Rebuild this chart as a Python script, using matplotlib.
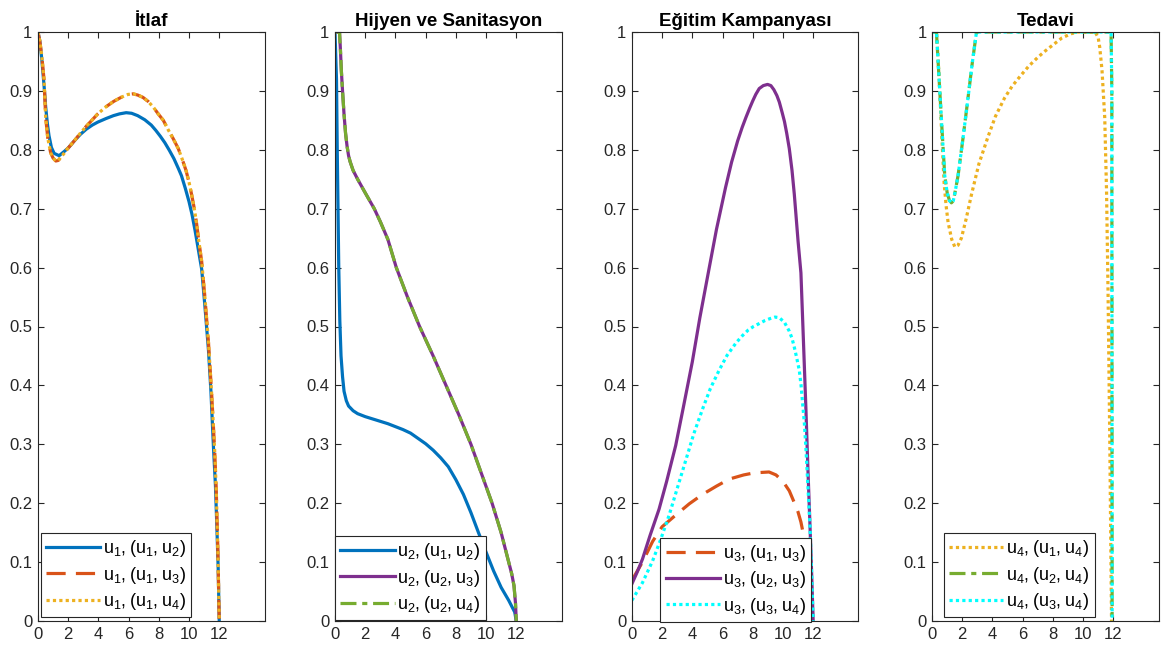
import numpy as np
import matplotlib
matplotlib.use("Agg")
import matplotlib.pyplot as plt

plt.rcParams['font.family'] = ['Liberation Sans', 'DejaVu Sans']

# --- renkler (MATLAB varsayilan) ---
mavi = '#0072BD'
turuncu = '#D95319'
sari = '#EDB120'
mor = '#7E2F8E'
yesil = '#77AC30'
camgobegi = '#00FFFF'

# --- Itlaf (u1) ---
t1_a = [0.0, 0.12, 0.25, 0.4, 0.51, 0.62, 0.73, 0.89, 1.07, 1.4, 1.73, 2.0, 2.4, 2.8, 3.2, 3.6, 3.96, 4.5,
        5.0, 5.4, 5.84, 6.2, 6.6, 7.07, 7.5, 7.8, 8.1, 8.4, 8.7, 9.0, 9.3, 9.5, 9.75, 10.0, 10.2, 10.4,
        10.6, 10.84, 11.05, 11.29, 11.45, 11.62, 11.75, 11.84, 11.93, 12.0]
u1_a = [1.0, 0.985, 0.955, 0.91, 0.873, 0.845, 0.824, 0.804, 0.794, 0.790, 0.797, 0.803, 0.815, 0.826,
        0.835, 0.842, 0.847, 0.853, 0.858, 0.861, 0.863, 0.862, 0.858, 0.851, 0.842, 0.833, 0.823, 0.812,
        0.799, 0.785, 0.768, 0.756, 0.735, 0.712, 0.690, 0.663, 0.633, 0.597, 0.535, 0.459, 0.390, 0.294,
        0.230, 0.162, 0.09, 0.0]
t1_b = [0.0, 0.12, 0.25, 0.4, 0.51, 0.65, 0.84, 1.0, 1.18, 1.35, 1.5, 1.7, 1.9, 2.4, 2.8, 3.2, 3.6, 3.96,
        4.5, 5.0, 5.5, 5.96, 6.3, 6.6, 6.95, 7.3, 7.65, 7.96, 8.3, 8.6, 8.95, 9.29, 9.55, 9.8, 10.0, 10.18,
        10.35, 10.5, 10.65, 10.84, 11.05, 11.29, 11.5, 11.69, 11.8, 11.91, 12.0]
u1_b = [1.0, 0.985, 0.96, 0.92, 0.855, 0.82, 0.795, 0.786, 0.781, 0.782, 0.787, 0.793, 0.800, 0.815, 0.828,
        0.840, 0.851, 0.861, 0.873, 0.882, 0.889, 0.894, 0.895, 0.893, 0.889, 0.882, 0.872, 0.861, 0.850,
        0.835, 0.819, 0.802, 0.784, 0.765, 0.745, 0.723, 0.700, 0.675, 0.645, 0.61, 0.55, 0.472, 0.385,
        0.294, 0.225, 0.12, 0.0]

# --- Hijyen ve Sanitasyon (u2) ---
t2_a = [0.0, 0.1, 0.15, 0.2, 0.25, 0.32, 0.4, 0.5, 0.6, 0.75, 0.9, 1.2, 1.5, 2.0, 2.5, 3.0, 3.5, 4.0, 4.5,
        5.0, 5.5, 6.0, 6.5, 7.0, 7.5, 8.0, 8.5, 9.0, 9.5, 10.0, 10.5, 11.0, 11.5, 11.9, 12.0]
u2_a = [1.0, 0.92, 0.8, 0.7, 0.6, 0.51, 0.45, 0.415, 0.39, 0.374, 0.365, 0.357, 0.352, 0.347, 0.343, 0.339,
        0.335, 0.330, 0.325, 0.319, 0.31, 0.301, 0.29, 0.277, 0.262, 0.24, 0.215, 0.184, 0.15, 0.117,
        0.085, 0.057, 0.035, 0.015, 0.0]
t2_b = [0.0, 0.3, 0.36, 0.42, 0.5, 0.6, 0.7, 0.8, 0.9, 1.0, 1.2, 1.5, 2.0, 2.6, 3.0, 3.5, 4.06, 4.8, 5.6,
        6.5, 7.35, 8.2, 9.0, 9.7, 10.4, 11.0, 11.5, 11.7, 11.85, 11.95, 12.0]
u2_b = [1.0, 1.0, 0.97, 0.935, 0.9, 0.86, 0.828, 0.806, 0.79, 0.78, 0.765, 0.75, 0.727, 0.7, 0.678, 0.648,
        0.6, 0.55, 0.5, 0.45, 0.4, 0.35, 0.3, 0.25, 0.2, 0.15, 0.1, 0.08, 0.06, 0.03, 0.0]

# --- Egitim Kampanyasi (u3) ---
t3_a = [0.0, 0.7, 1.37, 2.0, 2.91, 3.8, 4.68, 5.6, 6.45, 7.4, 8.0, 8.43, 9.08, 9.54, 10.0, 10.42, 10.8,
        11.0, 11.19, 11.45, 11.63, 11.85, 12.0]
u3_a = [0.069, 0.10, 0.135, 0.16, 0.18, 0.199, 0.215, 0.229, 0.241, 0.248, 0.251, 0.252, 0.253, 0.248,
        0.237, 0.221, 0.198, 0.185, 0.168, 0.135, 0.096, 0.05, 0.0]
t3_b = [0.0, 0.35, 0.7, 1.2, 1.8, 2.3, 2.9, 3.4, 4.0, 4.5, 5.1, 5.6, 6.2, 6.6, 7.0, 7.3, 7.55, 7.8, 8.0,
        8.2, 8.43, 8.7, 8.98, 9.2, 9.4, 9.6, 9.76, 9.95, 10.1, 10.25, 10.42, 10.6, 10.75, 10.86, 11.0,
        11.19, 11.35, 11.52, 11.65, 11.79, 11.9, 12.0]
u3_b = [0.063, 0.083, 0.105, 0.145, 0.19, 0.237, 0.298, 0.362, 0.44, 0.515, 0.597, 0.665, 0.736, 0.779,
        0.815, 0.838, 0.855, 0.871, 0.883, 0.894, 0.904, 0.909, 0.911, 0.909, 0.902, 0.892, 0.881, 0.863,
        0.848, 0.828, 0.802, 0.765, 0.725, 0.69, 0.645, 0.591, 0.48, 0.36, 0.26, 0.162, 0.08, 0.0]
t3_c = [0.0, 0.7, 1.37, 1.9, 2.47, 3.0, 3.58, 4.1, 4.68, 5.2, 5.78, 6.3, 6.89, 7.3, 7.7, 8.05, 8.43, 8.8,
        9.1, 9.47, 9.76, 10.1, 10.42, 10.6, 10.75, 10.9, 11.08, 11.2, 11.3, 11.42, 11.52, 11.65, 11.79,
        11.9, 12.0]
u3_c = [0.035, 0.065, 0.102, 0.138, 0.18, 0.225, 0.274, 0.318, 0.36, 0.395, 0.426, 0.451, 0.472, 0.484,
        0.494, 0.500, 0.505, 0.510, 0.513, 0.516, 0.515, 0.507, 0.492, 0.48, 0.465, 0.448, 0.426, 0.40,
        0.37, 0.335, 0.294, 0.23, 0.162, 0.08, 0.0]

# --- Tedavi (u4) ---
t4_a = [0.0, 0.29, 0.4, 0.51, 0.65, 0.8, 0.93, 1.06, 1.3, 1.51, 1.72, 1.94, 2.25, 2.6, 3.1, 3.7, 4.2, 4.8,
        5.3, 5.9, 6.4, 7.0, 7.5, 8.1, 8.6, 9.2, 9.67, 10.8, 11.0, 11.1, 11.25, 11.43, 11.55, 11.65, 11.77,
        11.88]
u4_a = [1.0, 1.0, 0.955, 0.9, 0.82, 0.743, 0.705, 0.677, 0.648, 0.635, 0.638, 0.65, 0.682, 0.723, 0.776,
        0.822, 0.857, 0.888, 0.908, 0.927, 0.942, 0.957, 0.968, 0.98, 0.99, 0.997, 1.0, 1.0, 0.99, 0.974,
        0.935, 0.855, 0.73, 0.558, 0.294, 0.0]
t4_b = [0.0, 0.29, 0.4, 0.51, 0.68, 0.84, 1.0, 1.15, 1.28, 1.4, 1.5, 1.72, 2.05, 2.38, 2.65, 2.94, 11.85,
        11.9, 11.92]
u4_b = [1.0, 1.0, 0.95, 0.9, 0.825, 0.756, 0.727, 0.714, 0.71, 0.713, 0.725, 0.756, 0.82, 0.888, 0.945,
        1.0, 1.0, 0.9, 0.0]

basliklar = ['İtlaf', 'Hijyen ve Sanitasyon', 'Eğitim Kampanyası', 'Tedavi']
x_ticks = [0, 2, 4, 6, 8, 10, 12]
y_ticks = np.arange(0, 11) / 10
y_etiket = ['0', '0.1', '0.2', '0.3', '0.4', '0.5', '0.6', '0.7', '0.8', '0.9', '1']

kesik = (6.0, 3.2)
nokta = (1.0, 1.0)
kesiknokta = (5.0, 1.8, 1.6, 1.8)

fig = plt.figure(figsize=(11.68, 6.53), dpi=100)
solda = [0.0325, 0.2868, 0.541, 0.798]
eksenler = [fig.add_axes([s, 0.049, 0.194, 0.902]) for s in solda]

def lbl(a, b, c):
    return r'$\mathregular{u_%d, (u_%d,u_%d)}$' % (a, b, c)

LW = 2.3

ax = eksenler[0]
ax.plot(t1_a, u1_a, color=mavi, lw=LW, label=lbl(1, 1, 2))
ax.plot(t1_b, u1_b, color=turuncu, lw=LW, dashes=kesik, label=lbl(1, 1, 3))
ax.plot(t1_b, u1_b, color=sari, lw=LW, dashes=nokta, label=lbl(1, 1, 4))
leg_yer = [(0.012, 0.006)]

ax = eksenler[1]
ax.plot(t2_a, u2_a, color=mavi, lw=LW, label=lbl(2, 1, 2))
ax.plot(t2_b, u2_b, color=mor, lw=LW, label=lbl(2, 2, 3))
ax.plot(t2_b, u2_b, color=yesil, lw=LW, dashes=kesiknokta, label=lbl(2, 2, 4))
leg_yer.append((0.0, 0.001))

ax = eksenler[2]
ax.plot(t3_a, u3_a, color=turuncu, lw=LW, dashes=kesik, label=lbl(3, 1, 3))
ax.plot(t3_b, u3_b, color=mor, lw=LW, label=lbl(3, 2, 3))
ax.plot(t3_c, u3_c, color=camgobegi, lw=LW, dashes=nokta, label=lbl(3, 3, 4))
leg_yer.append((0.125, -0.002))

ax = eksenler[3]
ax.plot(t4_a, u4_a, color=sari, lw=LW, dashes=nokta, label=lbl(4, 1, 4))
ax.plot(t4_b, u4_b, color=yesil, lw=LW, dashes=kesiknokta, label=lbl(4, 2, 4))
ax.plot(t4_b, u4_b, color=camgobegi, lw=LW, dashes=nokta, label=lbl(4, 3, 4))
leg_yer.append((0.052, 0.006))

for ax, baslik, yer in zip(eksenler, basliklar, leg_yer):
    ax.set_xlim(0, 15)
    ax.set_ylim(0, 1)
    ax.set_xticks(x_ticks)
    ax.set_yticks(y_ticks)
    ax.set_yticklabels(y_etiket)
    ax.tick_params(direction='in', top=True, right=True, labelsize=12, colors='#262626',
                   length=4, pad=4)
    for k in ax.spines.values():
        k.set_color('#262626')
        k.set_linewidth(0.8)
    ax.set_title(baslik, fontsize=13.5, fontweight='bold', pad=4)
    leg = ax.legend(loc='lower left', bbox_to_anchor=yer, fontsize=13, handlelength=3.0,
                    fancybox=False, framealpha=1, edgecolor='#262626', borderpad=0.3,
                    labelspacing=0.3, handletextpad=0.15, borderaxespad=0.0)
    leg.get_frame().set_linewidth(0.8)

fig.savefig('out.png', dpi=100)
